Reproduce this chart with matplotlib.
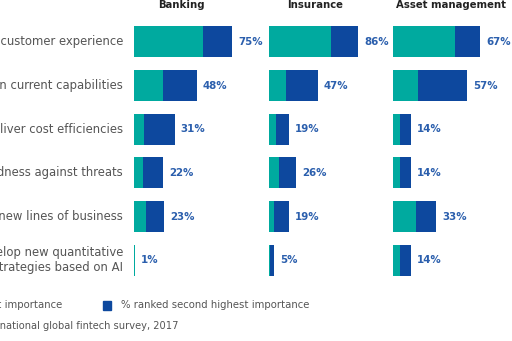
import matplotlib
matplotlib.use("Agg")
import matplotlib.pyplot as plt
from matplotlib.patches import Rectangle

# Survey results: share of respondents ranking each AI objective first / second
categories = [
    "Improve customer experience",
    "Build on current capabilities",
    "Deliver cost efficiencies",
    "Increase preparedness against threats",
    "Create new lines of business",
    "Develop new quantitative\ntrading strategies based on AI",
]
sectors = ["Banking", "Insurance", "Asset management"]

banking_first = [53, 22, 8, 7, 9, 1]
banking_second = [22, 26, 23, 15, 14, 0]
insurance_first = [60, 16, 7, 10, 5, 1]
insurance_second = [26, 31, 12, 16, 14, 4]
asset_first = [48, 19, 5, 5, 18, 5]
asset_second = [19, 38, 9, 9, 15, 9]

TEAL = "#00AA9F"
BLUE = "#0D489E"
LABEL_BLUE = "#2B5FAD"
GREY = "#555555"

W, H = 512, 341
fig = plt.figure(figsize=(W / 100, H / 100), dpi=100)
plt.rcParams["font.family"] = ["DejaVu Sans"]

def px_box(left, top, width, height):
    return [left / W, 1 - (top + height) / H, width / W, height / H]

# panel left edge, pixel width representing 0..100 %, title centre
panels = [
    (sectors[0], banking_first, banking_second, 134, 131, 181),
    (sectors[1], insurance_first, insurance_second, 269, 104, 315),
    (sectors[2], asset_first, asset_second, 393, 130, 451),
]
top, bottom = 20, 282

for name, first, second, left, width, title_x in panels:
    ax = fig.add_axes(px_box(left, top, width, bottom - top))
    ys = range(len(categories))
    ax.barh(ys, first, height=0.71, color=TEAL, linewidth=0)
    ax.barh(ys, second, left=first, height=0.71, color=BLUE, linewidth=0)
    for y, a, b in zip(ys, first, second):
        ax.annotate(f"{a + b}%", xy=(a + b, y), xytext=(6, 0),
                    textcoords="offset pixels", va="center", ha="left",
                    fontsize=7.4, fontweight="bold", color=LABEL_BLUE)
    ax.set_xlim(0, 100)
    ax.set_ylim(len(categories) - 0.5, -0.5)
    ax.axis("off")
    fig.text(title_x / W, 1 - 5 / H, name, ha="center",
             va="center", fontsize=7.3, fontweight="bold", color="#222222")

# row labels, right aligned against the first panel
row_h = (bottom - top) / len(categories)
for i, cat in enumerate(categories):
    yc = top + row_h * (i + 0.5)
    fig.text(123 / W, 1 - yc / H, cat, ha="right", va="center",
             fontsize=8.4, color=GREY, linespacing=1.2)

# legend
fig.patches.append(Rectangle(((-110) / W, 1 - 310 / H), 8 / W, 10 / H,
                             transform=fig.transFigure, color=TEAL))
fig.text(62 / W, 1 - 305 / H, "% ranked highest importance", ha="right",
         va="center", fontsize=7.3, color=GREY)
fig.patches.append(Rectangle((103 / W, 1 - 310 / H), 8 / W, 9 / H,
                             transform=fig.transFigure, color=BLUE))
fig.text(121 / W, 1 - 305 / H, "% ranked second highest importance",
         ha="left", va="center", fontsize=7.3, color=GREY)

fig.text(178 / W, 1 - 326 / H, "Source: KPMG International global fintech survey, 2017",
         ha="right", va="center", fontsize=7.15, color=GREY)

fig.savefig("out.png", dpi=100)
